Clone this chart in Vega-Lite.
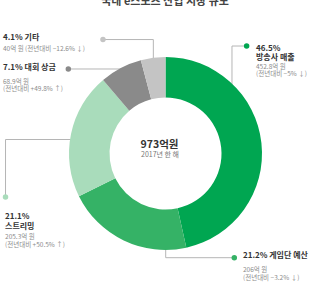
{
  "$schema": "https://vega.github.io/schema/vega-lite/v6.json",
  "autosize": {"type": "none"},
  "width": 297,
  "height": 263,
  "padding": {"left": 17, "top": 22, "right": 0, "bottom": 0},
  "background": "white",
  "config": {"view": {"stroke": null}, "font": "Noto Sans CJK KR"},
  "data": {"values": [
    {"name": "방송사 매출", "value": 452.8, "head": "46.5%\n방송사 매출", "sub": "452.8억 원\n(전년대비 −5% ↓)"},
    {"name": "게임단 예산", "value": 206, "head": "21.2% 게임단 예산", "sub": "206억 원\n(전년대비 −3.2% ↓)"},
    {"name": "스트리밍", "value": 205.3, "head": "21.1%\n스트리밍", "sub": "205.3억 원\n(전년대비 +50.5% ↑)"},
    {"name": "대회 상금", "value": 68.9, "head": "7.1% 대회 상금", "sub": "68.9억 원\n(전년대비 +49.8% ↑)"},
    {"name": "기타", "value": 40, "head": "4.1% 기타", "sub": "40억 원 (전년대비 −12.6% ↓)"}
  ]},
  "layer": [
    {"transform": [{"filter": "datum.name === '기타'"}], "mark": {"type": "rule", "color": "#b5b5b5", "strokeWidth": 1},
     "encoding": {"x": {"datum": -64.8, "type": "quantitative", "scale": {"domain": [-153.9, 153.9], "nice": false, "zero": false}, "axis": null}, "x2": {"datum": -12.6}, "y": {"datum": -118.1, "type": "quantitative", "scale": {"domain": [-136.3, 136.3], "nice": false, "zero": false, "reverse": true}, "axis": null}}},
    {"transform": [{"filter": "datum.name === '기타'"}], "mark": {"type": "rule", "color": "#b5b5b5", "strokeWidth": 1},
     "encoding": {"x": {"datum": -12.6, "type": "quantitative", "scale": {"domain": [-153.9, 153.9], "nice": false, "zero": false}, "axis": null}, "y": {"datum": -118.1, "type": "quantitative", "scale": {"domain": [-136.3, 136.3], "nice": false, "zero": false, "reverse": true}, "axis": null}, "y2": {"datum": -80}}},
    {"transform": [{"filter": "datum.name === '방송사 매출'"}], "mark": {"type": "rule", "color": "#b5b5b5", "strokeWidth": 1},
     "encoding": {"x": {"datum": 84.1, "type": "quantitative", "scale": {"domain": [-153.9, 153.9], "nice": false, "zero": false}, "axis": null}, "x2": {"datum": 68.9}, "y": {"datum": -111.4, "type": "quantitative", "scale": {"domain": [-136.3, 136.3], "nice": false, "zero": false, "reverse": true}, "axis": null}}},
    {"transform": [{"filter": "datum.name === '방송사 매출'"}], "mark": {"type": "rule", "color": "#b5b5b5", "strokeWidth": 1},
     "encoding": {"x": {"datum": 68.9, "type": "quantitative", "scale": {"domain": [-153.9, 153.9], "nice": false, "zero": false}, "axis": null}, "y": {"datum": -111.4, "type": "quantitative", "scale": {"domain": [-136.3, 136.3], "nice": false, "zero": false, "reverse": true}, "axis": null}, "y2": {"datum": -55.4}}},
    {"transform": [{"filter": "datum.name === '대회 상금'"}], "mark": {"type": "rule", "color": "#b5b5b5", "strokeWidth": 1},
     "encoding": {"x": {"datum": -100.7, "type": "quantitative", "scale": {"domain": [-153.9, 153.9], "nice": false, "zero": false}, "axis": null}, "x2": {"datum": -42}, "y": {"datum": -87.6, "type": "quantitative", "scale": {"domain": [-136.3, 136.3], "nice": false, "zero": false, "reverse": true}, "axis": null}}},
    {"transform": [{"filter": "datum.name === '스트리밍'"}], "mark": {"type": "rule", "color": "#b5b5b5", "strokeWidth": 1},
     "encoding": {"x": {"datum": -165.8, "type": "quantitative", "scale": {"domain": [-153.9, 153.9], "nice": false, "zero": false}, "axis": null}, "y": {"datum": 45.1, "type": "quantitative", "scale": {"domain": [-136.3, 136.3], "nice": false, "zero": false, "reverse": true}, "axis": null}, "y2": {"datum": -14.5}}},
    {"transform": [{"filter": "datum.name === '스트리밍'"}], "mark": {"type": "rule", "color": "#b5b5b5", "strokeWidth": 1},
     "encoding": {"x": {"datum": -165.8, "type": "quantitative", "scale": {"domain": [-153.9, 153.9], "nice": false, "zero": false}, "axis": null}, "x2": {"datum": -88.6}, "y": {"datum": -14.5, "type": "quantitative", "scale": {"domain": [-136.3, 136.3], "nice": false, "zero": false, "reverse": true}, "axis": null}}},
    {"transform": [{"filter": "datum.name === '게임단 예산'"}], "mark": {"type": "rule", "color": "#b5b5b5", "strokeWidth": 1},
     "encoding": {"x": {"datum": 71.3, "type": "quantitative", "scale": {"domain": [-153.9, 153.9], "nice": false, "zero": false}, "axis": null}, "x2": {"datum": 0.2}, "y": {"datum": 108, "type": "quantitative", "scale": {"domain": [-136.3, 136.3], "nice": false, "zero": false, "reverse": true}, "axis": null}}},
    {"transform": [{"filter": "datum.name === '게임단 예산'"}], "mark": {"type": "rule", "color": "#b5b5b5", "strokeWidth": 1},
     "encoding": {"x": {"datum": 0.2, "type": "quantitative", "scale": {"domain": [-153.9, 153.9], "nice": false, "zero": false}, "axis": null}, "y": {"datum": 108, "type": "quantitative", "scale": {"domain": [-136.3, 136.3], "nice": false, "zero": false, "reverse": true}, "axis": null}, "y2": {"datum": 79.3}}},
    {"mark": {"type": "arc", "innerRadius": 56, "outerRadius": 96.5},
     "encoding": {
       "theta": {"field": "value", "type": "quantitative", "stack": true},
       "color": {"field": "name", "type": "nominal", "scale": {"domain": ["방송사 매출", "게임단 예산", "스트리밍", "대회 상금", "기타"], "range": ["#00a651", "#35b266", "#a9dcbb", "#8a8a8a", "#c4c4c4"]}, "legend": null},
       "order": {"field": "value", "type": "quantitative", "sort": "descending"}
     }},
    {"transform": [{"filter": "datum.name === '기타'"}], "mark": {"type": "point", "filled": true, "size": 30, "opacity": 1},
     "encoding": {"x": {"datum": -64.8, "type": "quantitative", "scale": {"domain": [-153.9, 153.9], "nice": false, "zero": false}, "axis": null}, "y": {"datum": -118.1, "type": "quantitative", "scale": {"domain": [-136.3, 136.3], "nice": false, "zero": false, "reverse": true}, "axis": null}, "color": {"field": "name", "type": "nominal", "scale": {"domain": ["방송사 매출", "게임단 예산", "스트리밍", "대회 상금", "기타"], "range": ["#00a651", "#35b266", "#a9dcbb", "#8a8a8a", "#c4c4c4"]}, "legend": null}}},
    {"transform": [{"filter": "datum.name === '방송사 매출'"}], "mark": {"type": "point", "filled": true, "size": 30, "opacity": 1},
     "encoding": {"x": {"datum": 84.1, "type": "quantitative", "scale": {"domain": [-153.9, 153.9], "nice": false, "zero": false}, "axis": null}, "y": {"datum": -111.4, "type": "quantitative", "scale": {"domain": [-136.3, 136.3], "nice": false, "zero": false, "reverse": true}, "axis": null}, "color": {"field": "name", "type": "nominal", "scale": {"domain": ["방송사 매출", "게임단 예산", "스트리밍", "대회 상금", "기타"], "range": ["#00a651", "#35b266", "#a9dcbb", "#8a8a8a", "#c4c4c4"]}, "legend": null}}},
    {"transform": [{"filter": "datum.name === '대회 상금'"}], "mark": {"type": "point", "filled": true, "size": 30, "opacity": 1},
     "encoding": {"x": {"datum": -100.7, "type": "quantitative", "scale": {"domain": [-153.9, 153.9], "nice": false, "zero": false}, "axis": null}, "y": {"datum": -87.6, "type": "quantitative", "scale": {"domain": [-136.3, 136.3], "nice": false, "zero": false, "reverse": true}, "axis": null}, "color": {"field": "name", "type": "nominal", "scale": {"domain": ["방송사 매출", "게임단 예산", "스트리밍", "대회 상금", "기타"], "range": ["#00a651", "#35b266", "#a9dcbb", "#8a8a8a", "#c4c4c4"]}, "legend": null}}},
    {"transform": [{"filter": "datum.name === '스트리밍'"}], "mark": {"type": "point", "filled": true, "size": 30, "opacity": 1},
     "encoding": {"x": {"datum": -165.8, "type": "quantitative", "scale": {"domain": [-153.9, 153.9], "nice": false, "zero": false}, "axis": null}, "y": {"datum": 45.1, "type": "quantitative", "scale": {"domain": [-136.3, 136.3], "nice": false, "zero": false, "reverse": true}, "axis": null}, "color": {"field": "name", "type": "nominal", "scale": {"domain": ["방송사 매출", "게임단 예산", "스트리밍", "대회 상금", "기타"], "range": ["#00a651", "#35b266", "#a9dcbb", "#8a8a8a", "#c4c4c4"]}, "legend": null}}},
    {"transform": [{"filter": "datum.name === '게임단 예산'"}], "mark": {"type": "point", "filled": true, "size": 30, "opacity": 1},
     "encoding": {"x": {"datum": 71.3, "type": "quantitative", "scale": {"domain": [-153.9, 153.9], "nice": false, "zero": false}, "axis": null}, "y": {"datum": 108, "type": "quantitative", "scale": {"domain": [-136.3, 136.3], "nice": false, "zero": false, "reverse": true}, "axis": null}, "color": {"field": "name", "type": "nominal", "scale": {"domain": ["방송사 매출", "게임단 예산", "스트리밍", "대회 상금", "기타"], "range": ["#00a651", "#35b266", "#a9dcbb", "#8a8a8a", "#c4c4c4"]}, "legend": null}}},
    {"transform": [{"filter": "datum.name === '기타'"}], "mark": {"type": "text", "align": "left", "baseline": "middle", "fontSize": 8, "fontWeight": "bold", "color": "#333333", "lineBreak": "\n", "lineHeight": 9.5},
     "encoding": {"x": {"datum": -168.4, "type": "quantitative", "scale": {"domain": [-153.9, 153.9], "nice": false, "zero": false}, "axis": null}, "y": {"datum": -119.7, "type": "quantitative", "scale": {"domain": [-136.3, 136.3], "nice": false, "zero": false, "reverse": true}, "axis": null}, "text": {"field": "head"}}},
    {"transform": [{"filter": "datum.name === '기타'"}], "mark": {"type": "text", "align": "left", "baseline": "middle", "fontSize": 6.5, "color": "#8c8c8c", "lineBreak": "\n", "lineHeight": 7.3},
     "encoding": {"x": {"datum": -168.4, "type": "quantitative", "scale": {"domain": [-153.9, 153.9], "nice": false, "zero": false}, "axis": null}, "y": {"datum": -108.5, "type": "quantitative", "scale": {"domain": [-136.3, 136.3], "nice": false, "zero": false, "reverse": true}, "axis": null}, "text": {"field": "sub"}}},
    {"transform": [{"filter": "datum.name === '방송사 매출'"}], "mark": {"type": "text", "align": "left", "baseline": "middle", "fontSize": 8, "fontWeight": "bold", "color": "#333333", "lineBreak": "\n", "lineHeight": 8.8},
     "encoding": {"x": {"datum": 93.8, "type": "quantitative", "scale": {"domain": [-153.9, 153.9], "nice": false, "zero": false}, "axis": null}, "y": {"datum": -108.1, "type": "quantitative", "scale": {"domain": [-136.3, 136.3], "nice": false, "zero": false, "reverse": true}, "axis": null}, "text": {"field": "head"}}},
    {"transform": [{"filter": "datum.name === '방송사 매출'"}], "mark": {"type": "text", "align": "left", "baseline": "middle", "fontSize": 6.5, "color": "#8c8c8c", "lineBreak": "\n", "lineHeight": 7.3},
     "encoding": {"x": {"datum": 93.8, "type": "quantitative", "scale": {"domain": [-153.9, 153.9], "nice": false, "zero": false}, "axis": null}, "y": {"datum": -90.0, "type": "quantitative", "scale": {"domain": [-136.3, 136.3], "nice": false, "zero": false, "reverse": true}, "axis": null}, "text": {"field": "sub"}}},
    {"transform": [{"filter": "datum.name === '대회 상금'"}], "mark": {"type": "text", "align": "left", "baseline": "middle", "fontSize": 8, "fontWeight": "bold", "color": "#333333", "lineBreak": "\n", "lineHeight": 9.5},
     "encoding": {"x": {"datum": -168.4, "type": "quantitative", "scale": {"domain": [-153.9, 153.9], "nice": false, "zero": false}, "axis": null}, "y": {"datum": -88.2, "type": "quantitative", "scale": {"domain": [-136.3, 136.3], "nice": false, "zero": false, "reverse": true}, "axis": null}, "text": {"field": "head"}}},
    {"transform": [{"filter": "datum.name === '대회 상금'"}], "mark": {"type": "text", "align": "left", "baseline": "middle", "fontSize": 6.5, "color": "#8c8c8c", "lineBreak": "\n", "lineHeight": 7.3},
     "encoding": {"x": {"datum": -168.4, "type": "quantitative", "scale": {"domain": [-153.9, 153.9], "nice": false, "zero": false}, "axis": null}, "y": {"datum": -74.2, "type": "quantitative", "scale": {"domain": [-136.3, 136.3], "nice": false, "zero": false, "reverse": true}, "axis": null}, "text": {"field": "sub"}}},
    {"transform": [{"filter": "datum.name === '스트리밍'"}], "mark": {"type": "text", "align": "left", "baseline": "middle", "fontSize": 8, "fontWeight": "bold", "color": "#333333", "lineBreak": "\n", "lineHeight": 10},
     "encoding": {"x": {"datum": -166.3, "type": "quantitative", "scale": {"domain": [-153.9, 153.9], "nice": false, "zero": false}, "axis": null}, "y": {"datum": 66.1, "type": "quantitative", "scale": {"domain": [-136.3, 136.3], "nice": false, "zero": false, "reverse": true}, "axis": null}, "text": {"field": "head"}}},
    {"transform": [{"filter": "datum.name === '스트리밍'"}], "mark": {"type": "text", "align": "left", "baseline": "middle", "fontSize": 6.5, "color": "#8c8c8c", "lineBreak": "\n", "lineHeight": 7.7},
     "encoding": {"x": {"datum": -166.3, "type": "quantitative", "scale": {"domain": [-153.9, 153.9], "nice": false, "zero": false}, "axis": null}, "y": {"datum": 86.7, "type": "quantitative", "scale": {"domain": [-136.3, 136.3], "nice": false, "zero": false, "reverse": true}, "axis": null}, "text": {"field": "sub"}}},
    {"transform": [{"filter": "datum.name === '게임단 예산'"}], "mark": {"type": "text", "align": "left", "baseline": "middle", "fontSize": 8, "fontWeight": "bold", "color": "#333333", "lineBreak": "\n", "lineHeight": 9.5},
     "encoding": {"x": {"datum": 80.3, "type": "quantitative", "scale": {"domain": [-153.9, 153.9], "nice": false, "zero": false}, "axis": null}, "y": {"datum": 106.4, "type": "quantitative", "scale": {"domain": [-136.3, 136.3], "nice": false, "zero": false, "reverse": true}, "axis": null}, "text": {"field": "head"}}},
    {"transform": [{"filter": "datum.name === '게임단 예산'"}], "mark": {"type": "text", "align": "left", "baseline": "middle", "fontSize": 6.5, "color": "#8c8c8c", "lineBreak": "\n", "lineHeight": 7.3},
     "encoding": {"x": {"datum": 80.3, "type": "quantitative", "scale": {"domain": [-153.9, 153.9], "nice": false, "zero": false}, "axis": null}, "y": {"datum": 121.0, "type": "quantitative", "scale": {"domain": [-136.3, 136.3], "nice": false, "zero": false, "reverse": true}, "axis": null}, "text": {"field": "sub"}}},
    {"data": {"values": [{"t": "973억원"}]}, "mark": {"type": "text", "align": "center", "baseline": "middle", "fontSize": 10.5, "fontWeight": "bold", "color": "#333333"},
     "encoding": {"x": {"datum": -6.2, "type": "quantitative", "scale": {"domain": [-153.9, 153.9], "nice": false, "zero": false}, "axis": null}, "y": {"datum": -8.3, "type": "quantitative", "scale": {"domain": [-136.3, 136.3], "nice": false, "zero": false, "reverse": true}, "axis": null}, "text": {"field": "t"}}},
    {"data": {"values": [{"t": "2017년 한 해"}]}, "mark": {"type": "text", "align": "center", "baseline": "middle", "fontSize": 7, "color": "#777777"},
     "encoding": {"x": {"datum": -5.7, "type": "quantitative", "scale": {"domain": [-153.9, 153.9], "nice": false, "zero": false}, "axis": null}, "y": {"datum": 2.0, "type": "quantitative", "scale": {"domain": [-136.3, 136.3], "nice": false, "zero": false, "reverse": true}, "axis": null}, "text": {"field": "t"}}},
    {"data": {"values": [{"t": "국내 e스포츠 산업 시장 규모"}]}, "mark": {"type": "text", "align": "center", "baseline": "middle", "fontSize": 11, "fontWeight": "bold", "color": "#444444"},
     "encoding": {"x": {"datum": -0.5, "type": "quantitative", "scale": {"domain": [-153.9, 153.9], "nice": false, "zero": false}, "axis": null}, "y": {"datum": -157, "type": "quantitative", "scale": {"domain": [-136.3, 136.3], "nice": false, "zero": false, "reverse": true}, "axis": null}, "text": {"field": "t"}}}
  ]
}
